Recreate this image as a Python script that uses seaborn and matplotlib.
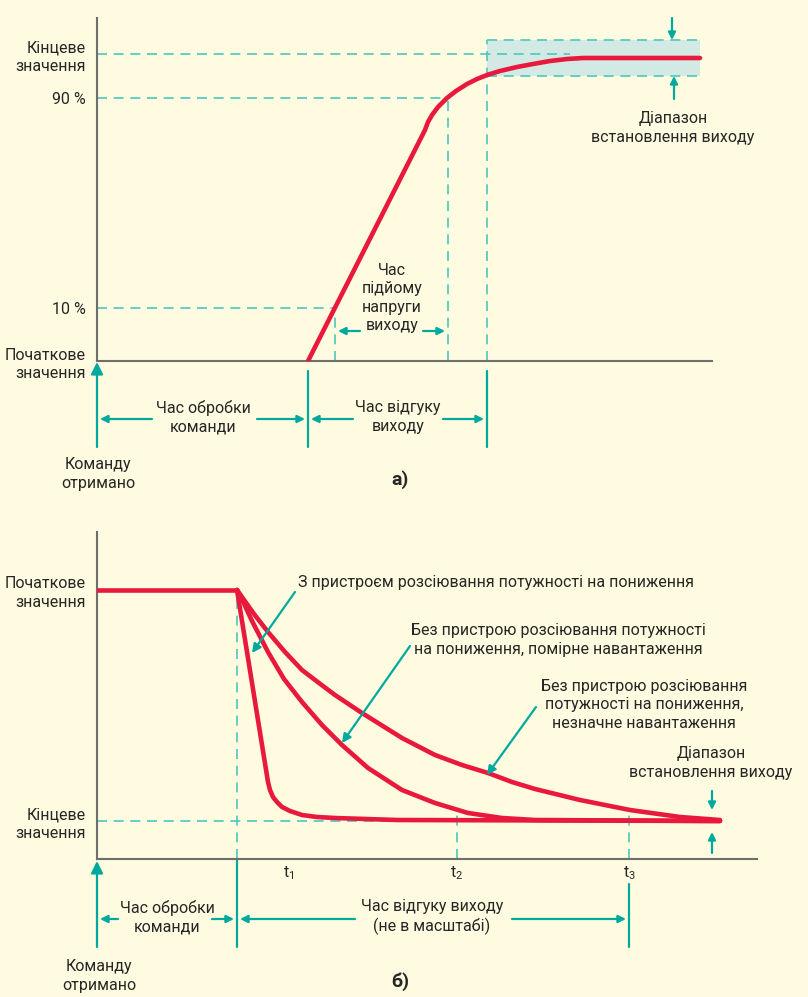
import matplotlib
matplotlib.use("Agg")
import matplotlib.pyplot as plt
import seaborn as sns

# --- кольори ---
BG = "#FEFBE0"
RED = "#E8193C"
TEAL = "#00A99D"
TEAL_DASH = "#4EC6BC"
BAND = "#D2EAE3"
AXIS = "#6E6E6E"
INK = "#262626"

# --- дані панелі а) (час / рівень в умовних одиницях) ---
a_time = [211, 328, 331, 335, 341, 350, 359, 370, 380, 390, 403, 420, 436, 453, 470, 486, 603]
a_level = [0, 231, 239, 246, 254, 263, 270, 277, 282, 286, 290, 294, 297, 300, 302, 303, 303]
a_ticks = [0, 53, 263, 307]
a_tick_labels = ["Початкове\nзначення", "10 %", "90 %", "Кінцеве\nзначення"]
a_cmd_end = 211      # кінець обробки команди
a_t10 = 238
a_t90 = 351
a_settle = 390
a_band = [285, 321]
a_band_end = 603

# --- дані панелі б) ---
b_start = 140
b_initial = 269
b_final = 38
b_fast_t = [140, 171, 173, 176, 180, 185, 193, 205, 220, 238, 300, 623]
b_fast_v = [269, 77, 69, 62, 57, 52, 48, 44, 42, 41, 39, 38]
b_mod_t = [140, 143, 155, 171, 187, 205, 225, 245, 271, 305, 338, 371, 405, 438, 623]
b_mod_v = [269, 264, 238, 207, 180, 157, 134, 114, 91, 69, 56, 46, 41, 39, 38]
b_slow_t = [140, 145, 157, 171, 188, 205, 222, 238, 265, 305, 338, 365, 391, 415, 438, 483, 533, 583, 623]
b_slow_v = [269, 262, 245, 227, 207, 189, 176, 164, 146, 121, 104, 94, 86, 77, 70, 59, 49, 42, 39]
b_marks = [192, 360, 532]
b_mark_labels = [r"$\mathregular{t_1}$", r"$\mathregular{t_2}$", r"$\mathregular{t_3}$"]

sns.set_theme(style="white")
plt.rcParams['font.family'] = ['Roboto', 'DejaVu Sans']
plt.rcParams['text.color'] = INK

fig = plt.figure(figsize=(8.08, 9.97), dpi=100)
fig.patch.set_facecolor(BG)

W, H = 808, 997
ax_a = fig.add_axes([97 / W, (H - 361) / H, (712 - 97) / W, (361 - 18) / H])
ax_b = fig.add_axes([97 / W, (H - 859) / H, (757 - 97) / W, (859 - 532) / H])

FS = 11.5

for ax in (ax_a, ax_b):
    ax.set_facecolor("none")
    for s in ("top", "right"):
        ax.spines[s].set_visible(False)
    for s in ("left", "bottom"):
        ax.spines[s].set_color(AXIS)
        ax.spines[s].set_linewidth(1.5)
    ax.tick_params(length=0, labelsize=FS, colors=INK)

DASH = dict(color=TEAL_DASH, lw=1.2, linestyle=(0, (6, 4)), clip_on=False, zorder=1)


def arrow(ax, x0, y0, x1, y1, ms=13):
    ax.annotate("", xy=(x1, y1), xytext=(x0, y0), annotation_clip=False,
                arrowprops=dict(arrowstyle="-|>", color=TEAL, lw=1.6,
                                mutation_scale=ms, shrinkA=0, shrinkB=0))


def vline(ax, x, y0, y1):
    ax.plot([x, x], [y0, y1], color=TEAL, lw=1.6, clip_on=False)


def label(ax, x, y, s, **kw):
    ax.text(x, y, s, ha=kw.pop("ha", "center"), va="center", fontsize=FS, linespacing=1.3, **kw)


# ================= панель а) =================
ax = ax_a
ax.set_xlim(0, 615)
ax.set_ylim(0, 343)
ax.set_xticks([])
ax.set_yticks(a_ticks, a_tick_labels, fontsize=FS, linespacing=1.3)
ax.tick_params(axis="y", pad=8)

ax.fill_between([a_settle, a_band_end], a_band[0], a_band[1], color=BAND, lw=0, zorder=0)
ax.plot([a_settle, a_band_end], [a_band[1]] * 2, **DASH)
ax.plot([a_settle, a_band_end], [a_band[0]] * 2, **DASH)
ax.plot([0, 473], [a_ticks[3]] * 2, **DASH)
ax.plot([0, a_t90], [a_ticks[2]] * 2, **DASH)
ax.plot([0, a_t10], [a_ticks[1]] * 2, **DASH)
ax.plot([a_t10, a_t10], [0, a_ticks[1]], **DASH)
ax.plot([a_t90, a_t90], [0, a_ticks[2]], **DASH)
ax.plot([a_settle, a_settle], [0, a_band[1]], **DASH)

sns.lineplot(x=a_time, y=a_level, ax=ax, color=RED, linewidth=3.3, estimator=None, sort=False, zorder=3)

arrow(ax, 575, 343, 575, a_band[1], ms=11)
arrow(ax, 577, 262, 577, a_band[0], ms=11)
label(ax, 576, 233, "Діапазон\nвстановлення виходу")

label(ax, 295, 63, "Час\nпідйому\nнапруги\nвиходу")
arrow(ax, 263, 30, 241, 30, ms=11)
arrow(ax, 326, 30, 348, 30, ms=11)

# нижня частина
arrow(ax, 0, -86, 0, -1, ms=18)
vline(ax, a_cmd_end, -10, -86)
vline(ax, a_settle, -10, -86)
arrow(ax, 55, -58, 3, -58, ms=11)
arrow(ax, 160, -58, 208, -58, ms=11)
arrow(ax, 256, -58, 214, -58, ms=11)
arrow(ax, 346, -58, 387, -58, ms=11)
label(ax, 106, -56, "Час обробки\nкоманди")
label(ax, 301, -56, "Час відгуку\nвиходу")
label(ax, 1, -113, "Команду\nотримано")
ax.text(303, -119, "а)", ha="center", va="center", fontsize=14, fontweight="bold")

# ================= панель б) =================
ax = ax_b
ax.set_xlim(0, 660)
ax.set_ylim(0, 327)
ax.set_xticks(b_marks, b_mark_labels, fontsize=FS)
ax.tick_params(axis="x", pad=4)
ax.set_yticks([b_final, b_initial], ["Кінцеве\nзначення", "Початкове\nзначення"], fontsize=FS, linespacing=1.3)
ax.tick_params(axis="y", pad=8)

ax.plot([0, 623], [b_final] * 2, **DASH)
ax.plot([b_start, b_start], [0, b_initial], **DASH)
for m in b_marks[1:]:
    ax.plot([m, m], [0, 47], **DASH)

sns.lineplot(x=[0, b_start], y=[b_initial, b_initial], ax=ax, color=RED, linewidth=3.3, estimator=None, zorder=3)
for t, v in ((b_fast_t, b_fast_v), (b_mod_t, b_mod_v), (b_slow_t, b_slow_v)):
    sns.lineplot(x=t, y=v, ax=ax, color=RED, linewidth=3.3, estimator=None, sort=False, zorder=3)

label(ax, 201, 277, "З пристроєм розсіювання потужності на пониження", ha="left")
arrow(ax, 198, 267, 155, 206, ms=13)
label(ax, 461, 219, "Без пристрою розсіювання потужності\nна пониження, помірне навантаження")
arrow(ax, 313, 213, 245, 116, ms=13)
label(ax, 547, 154, "Без пристрою розсіювання\nпотужності на пониження,\nнезначне навантаження")
arrow(ax, 439, 152, 390, 84, ms=13)
label(ax, 614, 96, "Діапазон\nвстановлення виходу")
arrow(ax, 615, 68, 615, 49, ms=11)
arrow(ax, 615, 6, 615, 27, ms=11)

# нижня частина
arrow(ax, 0, -88, 0, -2, ms=18)
vline(ax, b_start, 0, -88)
vline(ax, b_marks[2], -25, -88)
arrow(ax, 21, -60, 3, -60, ms=11)
arrow(ax, 115, -60, 137, -60, ms=11)
arrow(ax, 258, -60, 143, -60, ms=11)
arrow(ax, 415, -60, 529, -60, ms=11)
label(ax, 70, -58, "Час обробки\nкоманди")
label(ax, 335, -58, "Час відгуку виходу\n(не в масштабі)")
label(ax, 2, -117, "Команду\nотримано")
ax.text(303, -123, "б)", ha="center", va="center", fontsize=14, fontweight="bold")

fig.savefig("out.png", dpi=100, facecolor=BG)
